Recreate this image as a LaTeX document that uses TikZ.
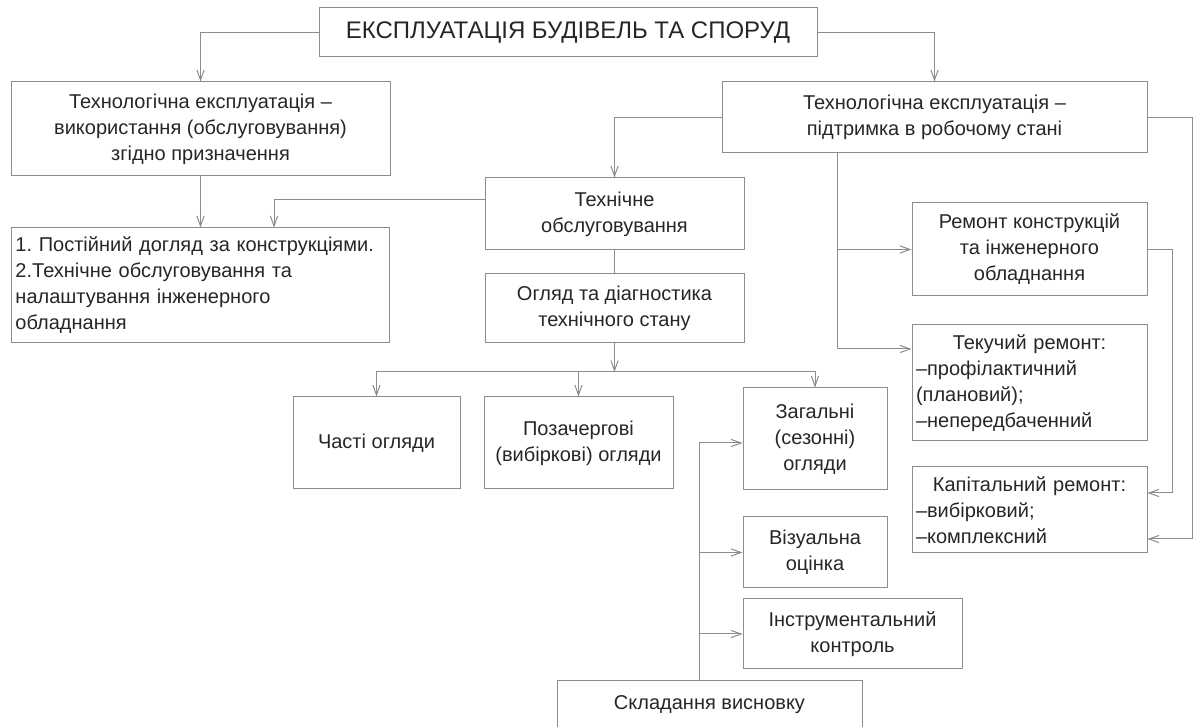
\documentclass[tikz,border=0pt]{standalone}
\usepackage{fontspec}
\setmainfont{Liberation Sans}
\usetikzlibrary{arrows.meta}
\frenchspacing

\begin{document}
\begin{tikzpicture}[x=0.5pt,y=-0.5pt,line width=0.5pt,
  >={Straight Barb[length=5pt,width=3.6pt]},
  every node/.style={font=\fontsize{10}{13}\selectfont,text=black!85},
  box/.style={draw=black!45,align=center,inner sep=2pt},
  link/.style={draw=black!45,->}]
\useasboundingbox (0,0) rectangle (1196,727);
\node[box,minimum width=249pt,minimum height=24.5pt,font=\fontsize{12}{14}\selectfont] (title) at (568,32.5) {ЕКСПЛУАТАЦІЯ БУДІВЕЛЬ ТА СПОРУД};
\node[box,minimum width=189.5pt,minimum height=47pt] (te1) at (200.5,129) {Технологічна експлуатація –\\використання (обслуговування)\\згідно призначення};
\node[box,minimum width=212.5pt,minimum height=35.5pt] (te2) at (934.5,117.5) {Технологічна експлуатація –\\підтримка в робочому стані};
\node[box,text width=185pt,align=left,minimum height=57.5pt] (list) at (200.5,285.5) {1. Постійний догляд за конструкціями.\\2.Технічне обслуговування та\\налаштування інженерного\\обладнання};
\node[box,minimum width=129.5pt,minimum height=36pt] (to) at (614.5,214) {Технічне\\обслуговування};
\node[box,minimum width=129.5pt,minimum height=34.5pt] (ohl) at (614.5,308.5) {Огляд та діагностика\\технічного стану};
\node[box,minimum width=83.5pt,minimum height=46pt] (chasti) at (376.5,443) {Часті огляди};
\node[box,minimum width=94.5pt,minimum height=46pt] (pozach) at (578.5,443) {Позачергові\\(вибіркові) огляди};
\node[box,minimum width=72pt,minimum height=51pt] (zah) at (815,439) {Загальні\\(сезонні)\\огляди};
\node[box,minimum width=72pt,minimum height=35.5pt] (viz) at (815,552.5) {Візуальна\\оцінка};
\node[box,minimum width=109.5pt,minimum height=35pt] (instr) at (852.5,634) {Інструментальний\\контроль};
\node[box,minimum width=152.5pt,minimum height=25pt] (sklad) at (709.5,705) {Складання висновку};
\node[box,minimum width=117.5pt,minimum height=46.5pt] (remont) at (1029.5,249.5) {Ремонт конструкцій\\та інженерного\\обладнання};
\node[box,text width=113.5pt,align=left,minimum height=58pt] (tekuch) at (1029.5,383) {\makebox[\linewidth]{Текучий ремонт:}\\–профілактичний\\(плановий);\\–непередбаченний};
\node[box,text width=113.5pt,align=left,minimum height=43pt] (kap) at (1029.5,510) {\makebox[\linewidth]{Капітальний ремонт:}\\–вибірковий;\\–комплексний};
\coordinate (hub) at (614.5,372);
\draw[link] (title.west) -| (te1.north);
\draw[link] (title.east) -| (te2.north);
\draw[link] (te1.south) -- (list.north);
\draw[link] (te2.west) -| (to.north);
\draw[link] ([yshift=7pt]to.west) -| ([xshift=36.75pt]list.north);
\draw[draw=black!45] (to.south) -- (ohl.north);
\draw[link] (ohl.south) -- (hub);
\draw[link] (hub) -| (chasti.north);
\draw[link] (hub) -| (pozach.north);
\draw[link] (hub) -| (zah.north);
\draw[link] ([xshift=-48.75pt]te2.south) |- (remont.west);
\draw[link] ([xshift=-48.75pt]te2.south) |- ([yshift=17pt]tekuch.west);
\draw[link] (remont.east) -- ++(25,0) |- ([yshift=8.5pt]kap.east);
\draw[link] (te2.east) -- ++(45,0) |- ([yshift=-14.5pt]kap.east);
\draw[link] ([xshift=-5.25pt]sklad.north) |- ([yshift=-2pt]zah.west);
\draw[link] ([xshift=-5.25pt]sklad.north) |- (viz.west);
\draw[link] ([xshift=-5.25pt]sklad.north) |- (instr.west);
\end{tikzpicture}
\end{document}
